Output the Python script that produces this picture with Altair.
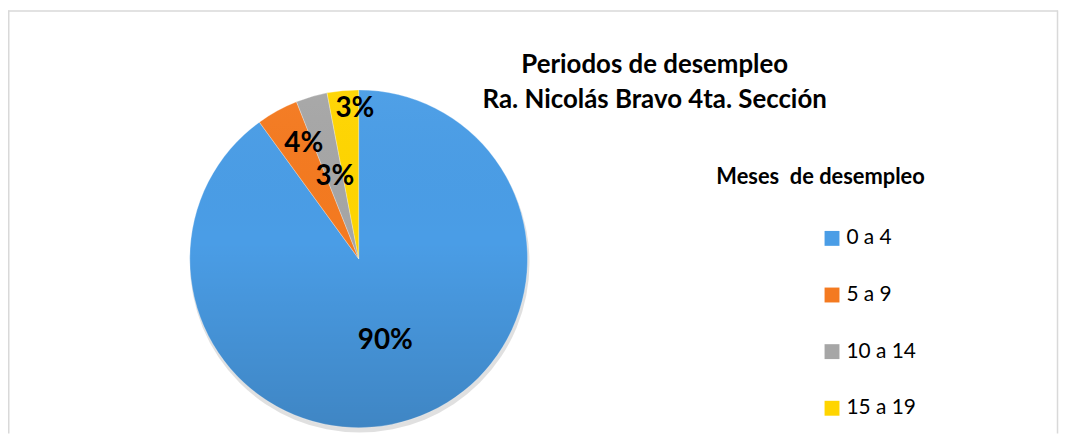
import math
import altair as alt
import pandas as pd

# ---- data ----
categories = ["0 a 4", "5 a 9", "10 a 14", "15 a 19"]
values = [90, 4, 3, 3]
labels = ["90%", "4%", "3%", "3%"]
colors = ["#4A9DE6", "#F47A20", "#A6A6A6", "#FFD500"]

title_lines = ["Periodos de desempleo", "Ra. Nicolás Bravo 4ta. Sección"]
legend_title = "Meses\u00a0 de desempleo"

df = pd.DataFrame({
    "cat": categories,
    "val": values,
    "label": labels,
    "idx": list(range(len(categories))),
})

FONT = "Lato"
CX, CY, R = 353, 251, 170
W, H = 1058, 427

color_scale = alt.Scale(domain=categories, range=colors)

base = alt.Chart(df)

# soft shadow under the pie
shadow = alt.Chart(pd.DataFrame({"a": [0]})).mark_arc(
    theta=0, theta2=2 * math.pi, outerRadius=R + 1, fill="#000000", opacity=0.12
).encode(x=alt.value(CX + 1), y=alt.value(CY + 4))

pie = base.mark_arc(outerRadius=R, stroke="#ffffff", strokeWidth=0.3).encode(
    theta=alt.Theta("val:Q", stack=True),
    order=alt.Order("idx:Q"),
    color=alt.Color(
        "cat:N",
        scale=color_scale,
        sort=categories,
        legend=alt.Legend(
            title=None,
            orient="none",
            legendX=819,
            legendY=220,
            symbolType="square",
            symbolSize=225,
            symbolStrokeWidth=0,
            labelFont=FONT,
            labelFontSize=21,
            labelColor="#000000",
            labelOffset=4,
            rowPadding=35,
            padding=0,
        ),
    ),
    x=alt.value(CX),
    y=alt.value(CY),
)

# light gradient overlay to mimic the shaded look
shade = alt.Chart(pd.DataFrame({"a": [0]})).mark_arc(
    theta=0,
    theta2=2 * math.pi,
    outerRadius=R,
    fill={
        "gradient": "linear",
        "x1": 0, "y1": 0, "x2": 0, "y2": 1,
        "stops": [
            {"offset": 0, "color": "rgba(255,255,255,0.03)"},
            {"offset": 0.45, "color": "rgba(0,0,0,0.0)"},
            {"offset": 1, "color": "rgba(0,0,0,0.15)"},
        ],
    },
).encode(x=alt.value(CX), y=alt.value(CY))

# percentage labels: angle at slice middle (small per-label angle nudge), radius per label
pct = base.transform_window(
    cum="sum(val)", sort=[alt.SortField("idx")]
).transform_joinaggregate(
    total="sum(val)"
).transform_calculate(
    nudge="datum.cat == '5 a 9' ? 0.9 : datum.cat == '15 a 19' ? 1.1 : 0",
    lr="datum.cat == '0 a 4' ? 87 : datum.cat == '5 a 9' ? 128 : datum.cat == '10 a 14' ? 86 : 151",
).transform_calculate(
    mid="(datum.cum - datum.val / 2 + datum.nudge) / datum.total"
).mark_text(
    font=FONT, fontSize=28, fontWeight="bold", color="#000000",
    align="center", baseline="middle",
).encode(
    theta=alt.Theta("mid:Q", stack=False, scale=alt.Scale(domain=[0, 1], range=[0, 2 * math.pi])),
    radius=alt.Radius("lr:Q", scale=None),
    text="label:N",
    x=alt.value(CX),
    y=alt.value(CY),
)

title1 = alt.Chart(pd.DataFrame({"t": [title_lines[0]]})).mark_text(
    font=FONT, fontSize=26, fontWeight="bold", color="#000000", align="center", baseline="alphabetic"
).encode(text="t:N", x=alt.value(651), y=alt.value(64))

title2 = alt.Chart(pd.DataFrame({"t": [title_lines[1]]})).mark_text(
    font=FONT, fontSize=26, fontWeight="bold", color="#000000", align="center", baseline="alphabetic"
).encode(text="t:N", x=alt.value(651), y=alt.value(99))

ltitle = alt.Chart(pd.DataFrame({"t": [legend_title]})).mark_text(
    font=FONT, fontSize=22, fontWeight="bold", color="#000000", align="center", baseline="alphabetic"
).encode(text="t:N", x=alt.value(818), y=alt.value(176))

# chart border (top, left, right)
border_color = "#D9D9D9"
top_rule = alt.Chart(pd.DataFrame({"a": [0]})).mark_rule(color=border_color, strokeWidth=1.5).encode(
    x=alt.value(0), x2=alt.value(W - 1), y=alt.value(1.5))
left_rule = alt.Chart(pd.DataFrame({"a": [0]})).mark_rule(color=border_color, strokeWidth=1.5).encode(
    x=alt.value(0.75), y=alt.value(1), y2=alt.value(H))
right_rule = alt.Chart(pd.DataFrame({"a": [0]})).mark_rule(color=border_color, strokeWidth=1.5).encode(
    x=alt.value(W - 1.5), y=alt.value(1), y2=alt.value(H))

chart = alt.layer(
    shadow, pie, shade, pct, title1, title2, ltitle, top_rule, left_rule, right_rule
).resolve_scale(
    theta="independent", radius="independent"
).properties(
    width=W, height=H,
    autosize=alt.AutoSizeParams(type="none"),
    padding=0,
    background="#ffffff",
).configure_view(stroke=None)

chart.save("out.html", embed_options={"renderer": "svg", "actions": False})
